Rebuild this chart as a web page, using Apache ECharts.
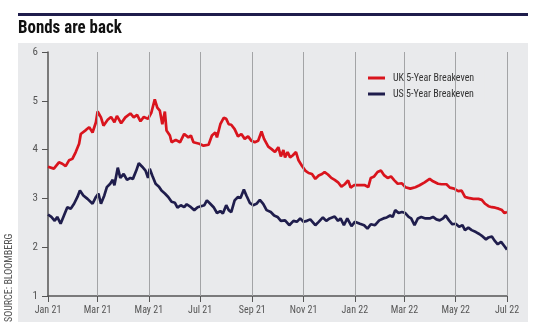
<!DOCTYPE html>
<html>
<head>
<meta charset="utf-8">
<script src="https://cdn.jsdelivr.net/npm/echarts@6/dist/echarts.min.js"></script>
<style>html,body{margin:0;padding:0;background:#fff}#c{width:540px;height:332px}</style>
</head>
<body>
<div id="c"></div>
<script>
// x values are days since 1 Jan 2021
var tickDays = [0, 59, 120, 181, 243, 304, 365, 424, 485, 546];
var tickLabels = ['Jan 21', 'Mar 21', 'May 21', 'Jul 21', 'Sep 21', 'Nov 21', 'Jan 22', 'Mar 22', 'May 22', 'Jul 22'];
var yTicks = [1, 2, 3, 4, 5, 6];

var ukDays = [0,7,13,17,21,25,29,33,37,39,45,49,53,57,59,63,66,71,75,79,82,87,92,98,102,106,110,114,119,123,127,130,133,136,139,141,145,147,152,157,162,167,170,173,180,185,191,195,199,201,205,209,212,215,218,222,226,230,234,238,242,246,250,254,257,262,266,270,274,277,280,282,285,288,291,295,298,302,306,310,314,318,322,326,329,333,337,341,345,349,353,357,360,364,369,371,377,381,384,388,392,396,400,404,408,412,416,421,425,431,437,442,448,454,458,464,468,474,478,483,488,492,496,500,506,512,516,520,524,528,532,536,540,543,546];
var ukValues = [3.65,3.61,3.74,3.71,3.66,3.78,3.81,3.95,4.12,4.32,4.40,4.46,4.35,4.56,4.78,4.66,4.49,4.61,4.67,4.56,4.69,4.54,4.66,4.74,4.66,4.71,4.58,4.67,4.63,4.76,5.03,4.86,4.80,4.52,4.78,4.39,4.29,4.15,4.20,4.15,4.32,4.25,4.29,4.15,4.12,4.08,4.10,4.29,4.35,4.25,4.52,4.65,4.63,4.52,4.51,4.42,4.27,4.32,4.22,4.27,4.18,4.15,4.18,4.37,4.22,4.06,4.01,3.95,4.05,3.86,3.99,3.84,3.95,3.84,3.88,3.95,3.78,3.67,3.57,3.52,3.50,3.40,3.47,3.50,3.54,3.49,3.42,3.38,3.33,3.24,3.29,3.37,3.22,3.27,3.27,3.27,3.27,3.23,3.42,3.45,3.54,3.57,3.47,3.42,3.45,3.37,3.30,3.31,3.23,3.20,3.23,3.27,3.33,3.40,3.35,3.30,3.29,3.29,3.22,3.20,3.15,3.16,3.03,3.01,2.99,2.99,2.97,2.89,2.84,2.82,2.81,2.79,2.76,2.70,2.72];

var usDays = [0,4,8,11,15,19,23,27,31,35,38,42,47,53,57,60,63,67,70,74,77,79,83,86,90,94,98,101,105,108,112,116,119,121,124,128,132,135,139,143,147,151,154,158,162,165,170,174,178,182,186,189,193,197,201,205,208,212,215,218,222,226,229,233,236,240,244,248,252,256,260,265,269,273,277,282,287,292,296,300,304,308,312,318,322,327,331,335,341,345,348,352,356,361,365,371,376,380,384,389,394,399,403,407,410,413,417,421,425,429,432,436,440,444,449,454,458,462,466,470,473,477,481,485,489,493,496,500,504,509,513,517,521,524,528,531,535,539,543,546];
var usValues = [2.67,2.62,2.54,2.62,2.48,2.65,2.82,2.79,2.89,3.03,3.16,3.06,2.99,2.89,3.03,3.10,2.89,3.06,3.23,3.30,3.38,3.27,3.63,3.42,3.50,3.38,3.42,3.40,3.57,3.72,3.65,3.57,3.42,3.61,3.47,3.30,3.24,3.16,3.10,3.03,2.93,2.91,2.81,2.86,2.82,2.88,2.82,2.76,2.82,2.84,2.86,2.96,2.89,2.82,2.70,2.74,2.69,2.86,2.76,2.72,2.96,3.03,3.01,3.18,3.06,2.91,2.86,2.89,2.97,2.89,2.76,2.72,2.65,2.62,2.54,2.55,2.45,2.54,2.52,2.59,2.52,2.54,2.57,2.45,2.52,2.61,2.54,2.59,2.63,2.54,2.59,2.45,2.59,2.43,2.52,2.48,2.45,2.38,2.47,2.45,2.55,2.59,2.61,2.65,2.62,2.76,2.70,2.72,2.70,2.62,2.59,2.45,2.59,2.62,2.59,2.59,2.62,2.57,2.55,2.59,2.65,2.55,2.47,2.48,2.42,2.45,2.35,2.40,2.35,2.31,2.27,2.22,2.16,2.20,2.22,2.14,2.06,2.11,2.02,1.95];

var FONT = "'Roboto Condensed', 'Open Sans Condensed', 'Liberation Sans Narrow', 'DejaVu Sans Condensed', sans-serif";
function pairs(xs, ys) { return xs.map(function (x, i) { return [x, ys[i]]; }); }

var chart = echarts.init(document.getElementById('c'), null, { renderer: 'canvas' });
chart.setOption({
  animation: false,
  backgroundColor: '#ffffff',
  graphic: [
    { type: 'rect', z: -10, shape: { x: 18, y: 43, width: 510, height: 279 }, style: { fill: '#e9eaec' } },
    { type: 'rect', z: -10, shape: { x: 18, y: 13, width: 510, height: 3 }, style: { fill: '#1f1d4c' } },
    { type: 'text', x: 18, y: 19, scaleX: 0.94, originX: 0, originY: 0,
      style: { text: 'Bonds are back', fill: '#111', font: "bold 18px " + FONT, textVerticalAlign: 'top' } },
    { type: 'text', x: 4, y: 322, rotation: Math.PI / 2, style: { text: 'SOURCE: BLOOMBERG', fill: '#555', font: "10px " + FONT, textAlign: 'left', textVerticalAlign: 'top' } }
  ],
  legend: {
    orient: 'vertical', left: 362, top: 69, padding: [4, 10, 5, 6], itemGap: 6,
    backgroundColor: '#e9eaec', icon: 'rect', itemWidth: 17, itemHeight: 3,
    textStyle: { color: '#333', fontSize: 10, fontFamily: FONT, padding: [0, 0, 0, 3] },
    data: ['UK 5-Year Breakeven', 'US 5-Year Breakeven']
  },
  grid: { left: 48, right: 33, top: 52, bottom: 36 },
  xAxis: {
    type: 'value', min: 0, max: 546,
    axisLine: { show: true, lineStyle: { color: '#555', width: 1.5 } },
    axisTick: { show: true, customValues: tickDays, length: 6, lineStyle: { color: '#555' } },
    axisLabel: { customValues: tickDays, color: '#555', fontSize: 10, fontFamily: FONT, margin: 9,
      formatter: function (v) { var i = tickDays.indexOf(Math.round(v)); return i >= 0 ? tickLabels[i] : ''; } },
    splitLine: { show: false }
  },
  yAxis: {
    type: 'value', min: 1, max: 6, interval: 1,
    axisLine: { show: true, lineStyle: { color: '#555', width: 1.5 } },
    axisTick: { show: true, length: 6, lineStyle: { color: '#555' } },
    axisLabel: { color: '#555', fontSize: 11, fontFamily: FONT, margin: 10 },
    splitLine: { show: false }
  },
  series: [
    { type: 'line', name: 'grid', data: [], silent: true, z: 1,
      markLine: { silent: true, symbol: 'none', label: { show: false },
        lineStyle: { color: '#a3a4a6', width: 1, type: 'solid' },
        data: tickDays.slice(1).map(function (d) { return { xAxis: d }; }) } },
    { type: 'line', name: 'UK 5-Year Breakeven', data: pairs(ukDays, ukValues), showSymbol: false, z: 3,
      lineStyle: { color: '#d9141d', width: 2.7 }, itemStyle: { color: '#d9141d' } },
    { type: 'line', name: 'US 5-Year Breakeven', data: pairs(usDays, usValues), showSymbol: false, z: 3,
      lineStyle: { color: '#1f1d4c', width: 2.7 }, itemStyle: { color: '#1f1d4c' } }
  ]
});
</script>
</body>
</html>
